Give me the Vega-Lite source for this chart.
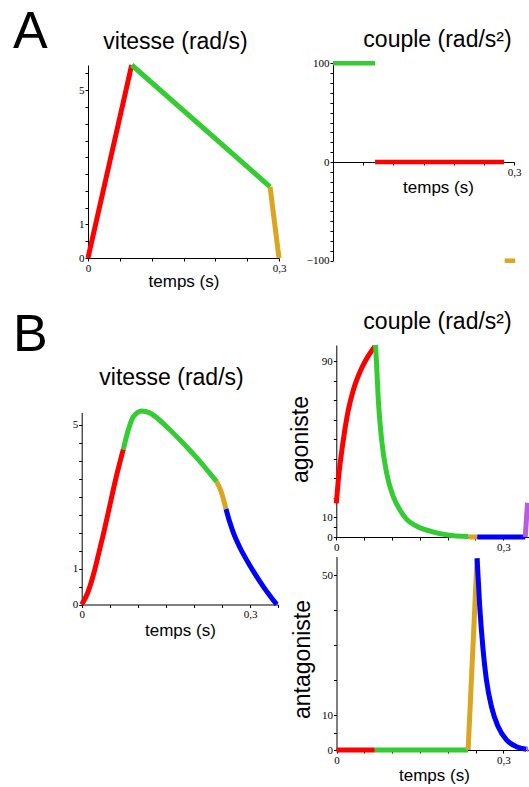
{
  "$schema": "https://vega.github.io/schema/vega-lite/v6.json",
  "width": 529,
  "height": 787,
  "autosize": {"type": "none"},
  "padding": 0,
  "background": "white",
  "title": {
    "text": ["A", "B"],
    "lineHeight": 303,
    "fontSize": 52,
    "font": "Liberation Sans",
    "fontWeight": "normal",
    "color": "black",
    "anchor": "start",
    "frame": "group",
    "dx": 13,
    "offset": -362
  },
  "datasets": {
    "avit": [
      {"t": 0, "v": 0, "c": "rouge"}, {"t": 0.0686, "v": 5.75, "c": "rouge"},
      {"t": 0.0686, "v": 5.75, "c": "vert"}, {"t": 0.286, "v": 2.12, "c": "vert"},
      {"t": 0.286, "v": 2.12, "c": "orange"}, {"t": 0.3, "v": 0, "c": "orange"}
    ],
    "acouple": [
      {"t": 0, "v": 100, "c": "vert"}, {"t": 0.0697, "v": 100, "c": "vert"},
      {"t": 0.0697, "v": 0, "c": "rouge"}, {"t": 0.2836, "v": 0, "c": "rouge"},
      {"t": 0.2845, "v": -100, "c": "orange"}, {"t": 0.302, "v": -100, "c": "orange"}
    ],
    "bvit": [
      {"t": 0, "v": 0, "c": "rouge"}, {"t": 0.01, "v": 0.3, "c": "rouge"}, {"t": 0.02, "v": 0.78, "c": "rouge"},
      {"t": 0.03, "v": 1.4, "c": "rouge"}, {"t": 0.04, "v": 2.05, "c": "rouge"}, {"t": 0.05, "v": 2.75, "c": "rouge"},
      {"t": 0.06, "v": 3.45, "c": "rouge"}, {"t": 0.0742, "v": 4.32, "c": "rouge"},
      {"t": 0.0742, "v": 4.32, "c": "vert"}, {"t": 0.083, "v": 4.86, "c": "vert"}, {"t": 0.092, "v": 5.23, "c": "vert"},
      {"t": 0.107, "v": 5.39, "c": "vert"}, {"t": 0.122, "v": 5.33, "c": "vert"}, {"t": 0.1515, "v": 4.95, "c": "vert"},
      {"t": 0.181, "v": 4.49, "c": "vert"}, {"t": 0.211, "v": 3.98, "c": "vert"}, {"t": 0.2406, "v": 3.42, "c": "vert"},
      {"t": 0.2406, "v": 3.42, "c": "orange"}, {"t": 0.2495, "v": 3.1, "c": "orange"}, {"t": 0.2572, "v": 2.66, "c": "orange"},
      {"t": 0.2572, "v": 2.66, "c": "bleu"}, {"t": 0.2632, "v": 2.33, "c": "bleu"}, {"t": 0.2703, "v": 2.0, "c": "bleu"},
      {"t": 0.2822, "v": 1.58, "c": "bleu"}, {"t": 0.3, "v": 1.08, "c": "bleu"}, {"t": 0.3237, "v": 0.5, "c": "bleu"},
      {"t": 0.3476, "v": 0, "c": "bleu"}
    ],
    "agoniste": [
      {"t": 0, "v": 17.2, "c": "rouge"}, {"t": 0.0036, "v": 29.1, "c": "rouge"}, {"t": 0.0126, "v": 49.6, "c": "rouge"},
      {"t": 0.0216, "v": 64.9, "c": "rouge"}, {"t": 0.0306, "v": 75.2, "c": "rouge"}, {"t": 0.0426, "v": 84.5, "c": "rouge"},
      {"t": 0.0546, "v": 91.3, "c": "rouge"}, {"t": 0.0695, "v": 97.6, "c": "rouge"},
      {"t": 0.0705, "v": 98.2, "c": "vert"}, {"t": 0.0726, "v": 87, "c": "vert"}, {"t": 0.0755, "v": 70, "c": "vert"},
      {"t": 0.0815, "v": 49.6, "c": "vert"}, {"t": 0.0905, "v": 32.6, "c": "vert"}, {"t": 0.1024, "v": 20.6, "c": "vert"},
      {"t": 0.1144, "v": 13.8, "c": "vert"}, {"t": 0.1264, "v": 9.0, "c": "vert"}, {"t": 0.1444, "v": 5.5, "c": "vert"},
      {"t": 0.1683, "v": 3.0, "c": "vert"}, {"t": 0.2, "v": 1.0, "c": "vert"}, {"t": 0.2372, "v": 0.2, "c": "vert"},
      {"t": 0.2372, "v": 0, "c": "orange"}, {"t": 0.2533, "v": 0, "c": "orange"},
      {"t": 0.2533, "v": 0, "c": "bleu"}, {"t": 0.3395, "v": 0, "c": "bleu"},
      {"t": 0.3395, "v": 0, "c": "violet"}, {"t": 0.3436, "v": 17.5, "c": "violet"}
    ],
    "antagoniste": [
      {"t": 0, "v": 0, "c": "rouge"}, {"t": 0.0688, "v": 0, "c": "rouge"},
      {"t": 0.0688, "v": 0, "c": "vert"}, {"t": 0.2365, "v": 0, "c": "vert"},
      {"t": 0.2365, "v": 0, "c": "orange"}, {"t": 0.2526, "v": 54.8, "c": "orange"},
      {"t": 0.2526, "v": 54.8, "c": "bleu"}, {"t": 0.2574, "v": 40.9, "c": "bleu"}, {"t": 0.2634, "v": 28.6, "c": "bleu"},
      {"t": 0.2694, "v": 20, "c": "bleu"}, {"t": 0.2784, "v": 12.4, "c": "bleu"}, {"t": 0.2903, "v": 6.7, "c": "bleu"},
      {"t": 0.3054, "v": 2.9, "c": "bleu"}, {"t": 0.3233, "v": 0.95, "c": "bleu"}, {"t": 0.3413, "v": 0.2, "c": "bleu"},
      {"t": 0.3413, "v": 0.2, "c": "violet"}, {"t": 0.3445, "v": 0.3, "c": "violet"}
    ]
  },
  "config": {
    "view": {"stroke": null},
    "axis": {
      "grid": false,
      "domainColor": "black",
      "domainWidth": 1,
      "tickColor": "black",
      "tickSize": 3,
      "tickWidth": 1,
      "labelFont": "Liberation Serif",
      "labelFontSize": 11,
      "labelColor": "black",
      "labelPadding": 1,
      "labelOverlap": false,
      "labelFlush": false,
      "labelBound": false,
      "titleFont": "Liberation Sans",
      "titleFontWeight": "normal",
      "titleColor": "black",
      "titleFontSize": 17,
      "titleAlign": "center",
      "titleBaseline": "alphabetic",
      "zindex": 1
    },
    "line": {"strokeWidth": 5, "strokeCap": "butt"}
  },
  "resolve": {
    "scale": {"x": "independent", "y": "independent"},
    "axis": {"x": "independent", "y": "independent"}
  },
  "layer": [
    {
      "data": {"name": "avit"},
      "mark": {"type": "line"},
      "encoding": {
        "x": {"field": "t", "type": "quantitative",
          "scale": {"domain": [0, 0.3], "range": [88, 279], "nice": false, "zero": false},
          "axis": {"orient": "bottom", "offset": -529, "values": [0, 0.05, 0.1, 0.15, 0.2, 0.25, 0.3],
            "labelExpr": "datum.value === 0 ? '0' : abs(datum.value - 0.3) < 0.001 ? '0,3' : ''",
            "title": "temps (s)", "titleAngle": 0, "titleY": 28.5}},
        "y": {"field": "v", "type": "quantitative",
          "scale": {"domain": [0, 5.75], "range": [258, 65], "nice": false},
          "axis": {"orient": "left", "offset": -88, "values": [0, 0.5, 1, 1.5, 2, 2.5, 3, 3.5, 4, 4.5, 5, 5.5],
            "labelExpr": "indexof([0, 1, 5], datum.value) >= 0 ? format(datum.value, '~g') : ''",
            "title": "vitesse (rad/s)", "titleFontSize": 23, "titleAngle": 0, "titleX": 87, "titleY": 48}},
        "color": {"field": "c", "type": "nominal",
          "scale": {"domain": ["rouge", "vert", "orange", "bleu", "violet"], "range": ["#ff0000", "#33cc33", "#daa520", "#0000ff", "#b85cdc"]},
          "legend": null}
      }
    },
    {
      "data": {"name": "acouple"},
      "mark": {"type": "line", "strokeWidth": 4.5},
      "encoding": {
        "x": {"field": "t", "type": "quantitative",
          "scale": {"domain": [0, 0.3], "range": [333, 514], "nice": false, "zero": false},
          "axis": {"orient": "bottom", "offset": -625, "values": [0, 0.05, 0.1, 0.15, 0.2, 0.25, 0.3],
            "labelExpr": "abs(datum.value - 0.3) < 0.001 ? '0,3' : ''",
            "title": "temps (s)", "titleAngle": 0, "titleX": 438, "titleY": 30.5}},
        "y": {"field": "v", "type": "quantitative",
          "scale": {"domain": [-100, 100], "range": [260.7, 63.3], "nice": false},
          "axis": {"orient": "left", "offset": -333, "values": [-100, -90, -80, -70, -60, -50, -40, -30, -20, -10, 0, 10, 20, 30, 40, 50, 60, 70, 80, 90, 100],
            "labelExpr": "indexof([-100, 0, 100], datum.value) >= 0 ? format(datum.value, '~g') : ''",
            "title": "couple (rad/s²)", "titleFontSize": 23, "titleAngle": 0, "titleX": 104, "titleY": 46}},
        "color": {"field": "c", "type": "nominal",
          "scale": {"domain": ["rouge", "vert", "orange", "bleu", "violet"], "range": ["#ff0000", "#33cc33", "#daa520", "#0000ff", "#b85cdc"]},
          "legend": null}
      }
    },
    {
      "data": {"name": "bvit"},
      "mark": {"type": "line", "interpolate": "monotone"},
      "encoding": {
        "x": {"field": "t", "type": "quantitative",
          "scale": {"domain": [0, 0.35], "range": [81.7, 278.05], "nice": false, "zero": false},
          "axis": {"orient": "bottom", "offset": -182.5, "values": [0, 0.05, 0.1, 0.15, 0.2, 0.25, 0.3, 0.35],
            "labelExpr": "datum.value === 0 ? '0' : abs(datum.value - 0.3) < 0.001 ? '0,3' : ''",
            "title": "temps (s)", "titleAngle": 0, "titleY": 31}},
        "y": {"field": "v", "type": "quantitative",
          "scale": {"domain": [0, 5.35], "range": [604.5, 412.4], "nice": false},
          "axis": {"orient": "left", "offset": -81.7, "values": [0, 0.5, 1, 1.5, 2, 2.5, 3, 3.5, 4, 4.5, 5],
            "labelExpr": "indexof([0, 1, 5], datum.value) >= 0 ? format(datum.value, '~g') : ''",
            "title": "vitesse (rad/s)", "titleFontSize": 23, "titleAngle": 0, "titleX": 89.3, "titleY": 384}},
        "color": {"field": "c", "type": "nominal",
          "scale": {"domain": ["rouge", "vert", "orange", "bleu", "violet"], "range": ["#ff0000", "#33cc33", "#daa520", "#0000ff", "#b85cdc"]},
          "legend": null}
      }
    },
    {
      "data": {"name": "agoniste"},
      "mark": {"type": "line", "interpolate": "monotone"},
      "encoding": {
        "x": {"field": "t", "type": "quantitative",
          "scale": {"domain": [0, 0.35], "range": [336.3, 531.1], "nice": false, "zero": false},
          "axis": {"orient": "bottom", "offset": -250, "values": [0, 0.05, 0.1, 0.15, 0.2, 0.25, 0.3, 0.35],
            "labelExpr": "datum.value === 0 ? '0' : abs(datum.value - 0.3) < 0.001 ? '0,3' : ''",
            "title": "couple (rad/s²)", "titleFontSize": 23, "titleAngle": 0, "titleX": 437, "titleY": -209}},
        "y": {"field": "v", "type": "quantitative",
          "scale": {"domain": [0, 98.2], "range": [537, 345], "nice": false},
          "axis": {"orient": "left", "offset": -336.3, "values": [0, 5, 10, 20, 30, 40, 50, 60, 70, 80, 90],
            "labelExpr": "indexof([0, 10, 90], datum.value) >= 0 ? format(datum.value, '~g') : ''",
            "title": "agoniste", "titleFontSize": 23, "titleAngle": 270, "titleX": -29.3, "titleY": 439}},
        "color": {"field": "c", "type": "nominal",
          "scale": {"domain": ["rouge", "vert", "orange", "bleu", "violet"], "range": ["#ff0000", "#33cc33", "#daa520", "#0000ff", "#b85cdc"]},
          "legend": null}
      }
    },
    {
      "data": {"name": "antagoniste"},
      "mark": {"type": "line", "interpolate": "monotone"},
      "encoding": {
        "x": {"field": "t", "type": "quantitative",
          "scale": {"domain": [0, 0.35], "range": [336.5, 531.3], "nice": false, "zero": false},
          "axis": {"orient": "bottom", "offset": -37, "values": [0, 0.05, 0.1, 0.15, 0.2, 0.25, 0.3, 0.35],
            "labelExpr": "datum.value === 0 ? '0' : abs(datum.value - 0.3) < 0.001 ? '0,3' : ''",
            "title": "temps (s)", "titleAngle": 0, "titleY": 30.5}},
        "y": {"field": "v", "type": "quantitative",
          "scale": {"domain": [0, 55.3], "range": [750, 556.5], "nice": false},
          "axis": {"orient": "left", "offset": -336.5, "values": [0, 5, 10, 20, 30, 40, 50],
            "labelExpr": "indexof([0, 10, 50], datum.value) >= 0 ? format(datum.value, '~g') : ''",
            "title": "antagoniste", "titleFontSize": 23, "titleAngle": 270, "titleX": -27.5, "titleY": 659}},
        "color": {"field": "c", "type": "nominal",
          "scale": {"domain": ["rouge", "vert", "orange", "bleu", "violet"], "range": ["#ff0000", "#33cc33", "#daa520", "#0000ff", "#b85cdc"]},
          "legend": null}
      }
    }
  ]
}
